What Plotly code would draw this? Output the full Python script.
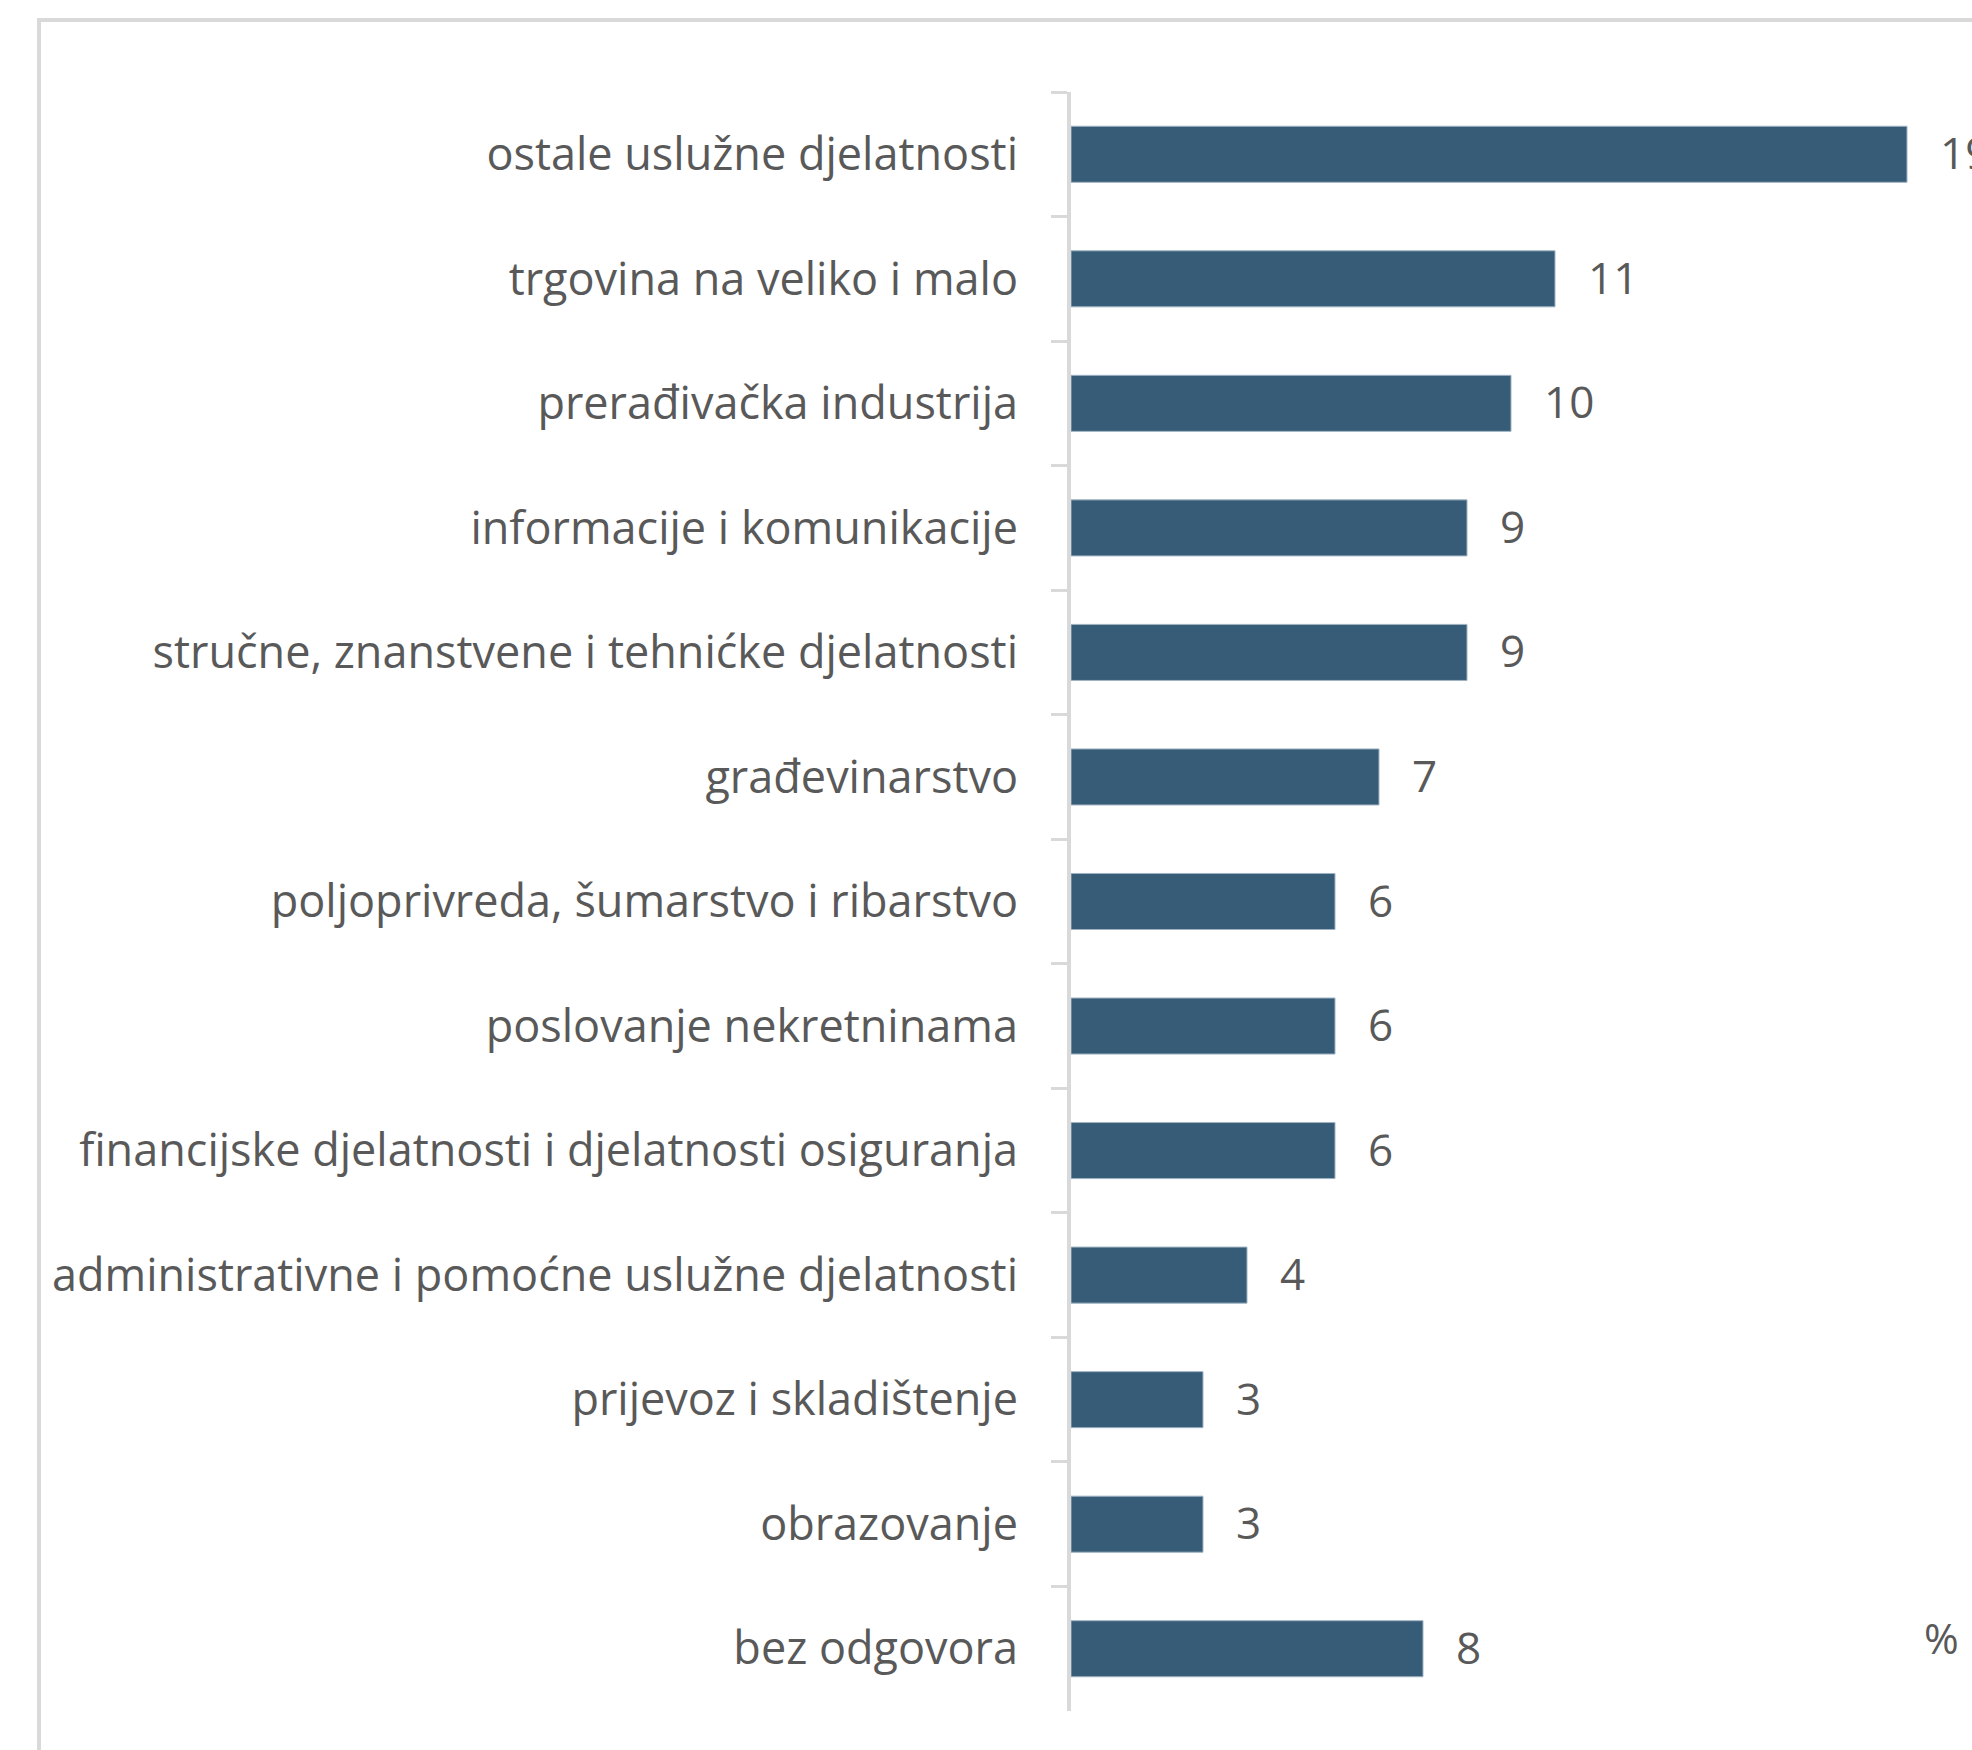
import plotly.graph_objects as go

# Share of respondents by activity sector (%)
categories = [
    "ostale uslužne djelatnosti",
    "trgovina na veliko i malo",
    "prerađivačka industrija",
    "informacije i komunikacije",
    "stručne, znanstvene i tehnićke djelatnosti",
    "građevinarstvo",
    "poljoprivreda, šumarstvo i ribarstvo",
    "poslovanje nekretninama",
    "financijske djelatnosti i djelatnosti osiguranja",
    "administrativne i pomoćne uslužne djelatnosti",
    "prijevoz i skladištenje",
    "obrazovanje",
    "bez odgovora",
]
values = [19, 11, 10, 9, 9, 7, 6, 6, 6, 4, 3, 3, 8]
unit_label = "%"

W, H = 1972, 1750
L, R, T, B = 1071, 0, 92, 39
FONT = "Open Sans"
TEXT = "#595959"
GRID = "#d9d9d9"
BAR = "#365c77"

fig = go.Figure(go.Bar(
    y=categories,
    x=values,
    orientation="h",
    marker=dict(color=BAR, line=dict(color="#9fb3c3", width=1)),
    hoverinfo="skip",
))

for cat, val in zip(categories, values):
    fig.add_annotation(
        x=val, y=cat, text=str(val), showarrow=False,
        xanchor="left", yanchor="middle", xshift=31, yshift=2,
        font=dict(family=FONT, size=44, color=TEXT),
    )

fig.add_annotation(
    xref="paper", yref="paper",
    x=(1941 - L) / (W - L - R), y=(H - B - 1637) / (H - T - B),
    text=unit_label, showarrow=False, xanchor="center", yanchor="middle",
    font=dict(family=FONT, size=42, color=TEXT),
)

# outer frame, open towards the right and bottom edges
pw, ph = W - L - R, H - T - B
fig.add_shape(
    type="rect", xref="paper", yref="paper",
    x0=(39 - L) / pw, x1=(W + 50 - L) / pw,
    y0=(H - B - (H + 50)) / ph, y1=(H - B - 20) / ph,
    line=dict(color=GRID, width=4), fillcolor="rgba(0,0,0,0)", layer="below",
)

fig.update_layout(
    width=W, height=H,
    margin=dict(l=L, r=R, t=T, b=B, pad=0),
    paper_bgcolor="white", plot_bgcolor="white",
    bargap=0.55,
    showlegend=False,
    font=dict(family=FONT, color=TEXT),
)
fig.update_xaxes(range=[0, pw / 44.0], visible=False, showgrid=False, zeroline=False)
fig.update_yaxes(
    autorange="reversed", type="category",
    tickson="boundaries", ticks="outside", ticklen=16, tickwidth=3, tickcolor=GRID,
    showline=True, linewidth=4, linecolor=GRID,
    showgrid=False, zeroline=False,
    tickfont=dict(family=FONT, size=45, color=TEXT),
    ticklabelstandoff=40,
)

fig.write_html("out.html")
